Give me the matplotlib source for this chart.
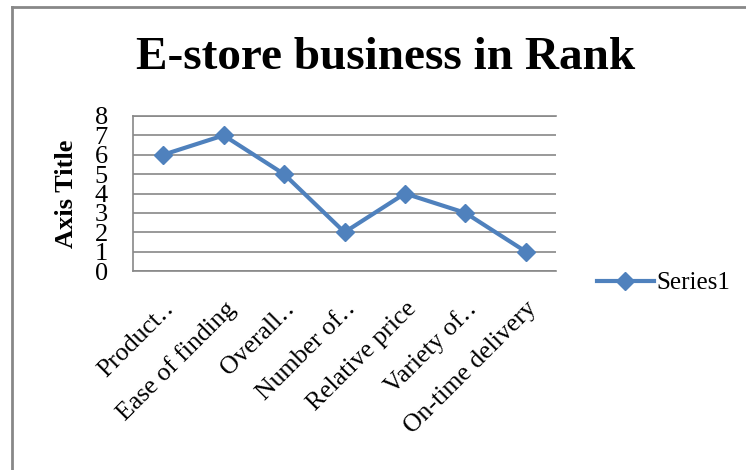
import matplotlib
matplotlib.use("Agg")
import matplotlib.pyplot as plt
from matplotlib.lines import Line2D

plt.rcParams['font.family'] = ['Liberation Serif', 'DejaVu Serif']

# data
categories = ["Product‥", "Ease of finding", "Overall‥", "Number of‥",
              "Relative price", "Variety of‥", "On-time delivery"]
values = [6, 7, 5, 2, 4, 3, 1]
yticks = [0, 1, 2, 3, 4, 5, 6, 7, 8]

blue = '#4F81BD'
grey = '#888888'

fig = plt.figure(figsize=(7.46, 4.70), dpi=100)
ax = fig.add_axes([133 / 746, 1 - 271 / 470, (556 - 133) / 746, (271 - 116) / 470])

x = range(len(categories))
ax.plot(x, values, color=blue, linewidth=3, marker='D', markersize=9.5,
        label='Series1')

ax.set_xlim(-0.5, len(categories) - 0.5)
ax.set_ylim(0, 8)
ax.set_yticks(yticks)
ax.set_yticklabels([str(v) for v in yticks], fontsize=19)
ax.set_xticks(list(x))
ax.set_xticklabels(categories, fontsize=18.5, rotation=45, ha='right',
                   rotation_mode='anchor')
ax.tick_params(axis='both', length=0)
ax.tick_params(axis='y', pad=18)
ax.tick_params(axis='x', pad=19)

ax.yaxis.grid(True, color=grey, linewidth=1.2)
ax.set_axisbelow(True)
for side in ['left', 'bottom', 'top']:
    ax.spines[side].set_color(grey)
    ax.spines[side].set_linewidth(1.2)
ax.spines['right'].set_visible(False)

ax.set_ylabel('Axis Title', fontsize=19, fontweight='bold', labelpad=12)

fig.text(386 / 746, 1 - 58 / 470, 'E-store business in Rank', fontsize=34,
         fontweight='bold', ha='center', va='center')

fig.legend(handles=ax.get_lines(), loc='center left',
           bbox_to_anchor=(574 / 746, 1 - 283 / 470), frameon=False,
           fontsize=18, handlelength=2.3, handletextpad=0.1)

# outer chart frame (left and top edges visible)
fig.add_artist(Line2D([12 / 746, 12 / 746], [0, 1 - 7 / 470],
                      transform=fig.transFigure, color=grey, linewidth=2))
fig.add_artist(Line2D([12 / 746, 1], [1 - 7 / 470, 1 - 7 / 470],
                      transform=fig.transFigure, color=grey, linewidth=2))

fig.savefig('out.png', dpi=100)
